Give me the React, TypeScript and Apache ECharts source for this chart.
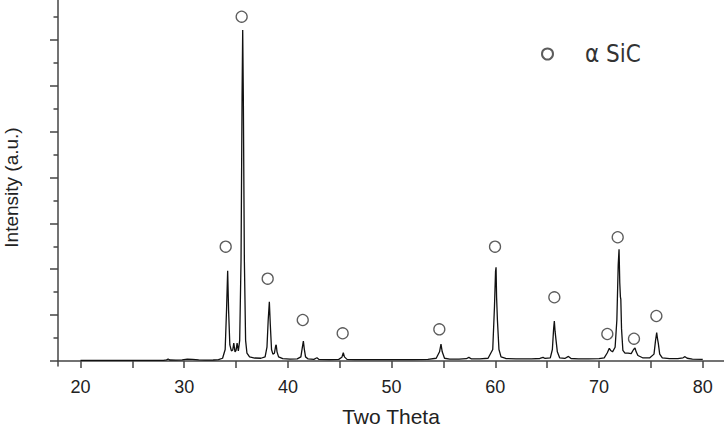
import React, { useEffect, useRef } from 'react';
import * as echarts from 'echarts';

// 2θ (degrees) and intensity (arbitrary units)
const twoTheta = [
  20.0, 21.0, 22.0, 23.0, 24.0, 25.0, 26.0, 27.0, 28.0, 28.3, 28.45, 28.6, 29.2, 29.8, 30.3, 30.8, 31.4, 32.0, 32.8, 33.3,
  33.7, 33.95, 34.08, 34.19, 34.28, 34.4, 34.55, 34.68, 34.78, 34.9, 35.0, 35.1, 35.22, 35.35, 35.48, 35.58, 35.64, 35.7, 35.8, 35.92,
  36.05, 36.3, 36.8, 37.4, 37.8, 37.98, 38.1, 38.21, 38.3, 38.42, 38.55, 38.7, 38.82, 38.87, 38.95, 39.1, 39.5, 40.2, 40.9, 41.25,
  41.38, 41.49, 41.58, 41.7, 41.95, 42.5, 42.8, 43.0, 44.0, 44.9, 45.2, 45.34, 45.45, 45.7, 46.5, 48.0, 50.0, 52.0, 53.5, 54.3,
  54.62, 54.76, 54.88, 55.1, 55.6, 56.5, 57.2, 57.45, 57.7, 58.5, 59.3, 59.75, 59.92, 60.02, 60.07, 60.12, 60.2, 60.35, 60.55, 61.0,
  62.0, 63.5, 64.3, 64.6, 64.8, 65.3, 65.5, 65.62, 65.69, 65.76, 65.85, 65.98, 66.2, 66.7, 67.05, 67.3, 68.0, 69.0, 70.0, 70.5,
  70.8, 70.99, 71.12, 71.3, 71.55, 71.72, 71.85, 71.93, 72.0, 72.06, 72.1, 72.17, 72.3, 72.5, 72.8, 73.1, 73.33, 73.47, 73.58, 73.75,
  74.2, 74.9, 75.3, 75.45, 75.56, 75.64, 75.72, 75.85, 76.1, 76.8, 77.6, 78.1, 78.29, 78.5, 79.0, 80.0,
];
const intensity = [
  12, 12, 13, 12, 13, 13, 14, 14, 15, 25, 45, 22, 18, 25, 40, 35, 25, 20, 22, 30,
  60, 250, 1100, 1968, 1100, 350, 220, 240, 390, 200, 230, 390, 220, 450, 2200, 5800, 7215, 5800, 2200, 450,
  170, 90, 65, 60, 90, 300, 900, 1293, 800, 250, 150, 170, 330, 350, 200, 90, 50, 40, 45, 90,
  280, 436, 260, 90, 45, 35, 70, 35, 30, 35, 80, 180, 90, 35, 28, 28, 28, 30, 35, 60,
  200, 370, 200, 60, 40, 40, 50, 80, 45, 45, 60, 250, 1200, 1950, 2042, 1400, 900, 250, 90, 55,
  45, 45, 55, 80, 55, 70, 250, 700, 872, 650, 460, 200, 70, 55, 100, 55, 45, 45, 50, 70,
  180, 277, 230, 200, 300, 900, 2100, 2435, 1700, 1400, 1350, 700, 230, 170, 170, 160, 250, 283, 200, 120,
  70, 70, 150, 450, 617, 480, 380, 150, 70, 50, 50, 70, 94, 60, 40, 35,
];

// α-SiC reflection markers (circles drawn above the peaks)
const markerTheta = [34.0, 35.54, 38.05, 41.43, 45.28, 54.6, 59.97, 65.69, 70.8, 71.8, 73.37, 75.53];
const markerIntensity = [2492, 7505, 1794, 894, 604, 691, 2492, 1389, 589, 2697, 486, 981];

const xTickValues = [20, 25, 30, 35, 40, 45, 50, 55, 60, 65, 70, 75, 80];
const xLabelValues = [20, 30, 40, 50, 60, 70, 80];
const yMajorTickValues = [0, 1000, 2000, 3000, 4000, 5000, 6000, 7000];
const yMinorTickValues = [500, 1500, 2500, 3500, 4500, 5500, 6500, 7500];

const xTitle = 'Two Theta';
const yTitle = 'Intensity (a.u.)';
const phaseName = 'α SiC';

const FONT = 'Arial, Liberation Sans, Helvetica, sans-serif';
const NARROW_FONT = 'Liberation Sans Narrow, Arial Narrow, DejaVu Sans Condensed, sans-serif';
const AXIS_COLOR = '#444';
const TEXT_COLOR = '#222';

export default function App() {
  const ref = useRef<HTMLDivElement>(null);

  useEffect(() => {
    if (!ref.current) return;
    const chart = echarts.init(ref.current, null, { renderer: 'svg' });
    const yMin = -109;
    const yMax = 8000;
    chart.setOption({
      animation: false,
      backgroundColor: '#fff',
      grid: { left: 58, right: 0, top: -6, bottom: 62, outerBoundsMode: 'none', containLabel: false },
      legend: {
        data: [phaseName],
        left: 536,
        top: 37,
        itemWidth: 11,
        itemHeight: 11,
        selectedMode: false,
        textStyle: {
          fontSize: 24,
          fontFamily: NARROW_FONT,
          color: '#333',
          padding: [0, 0, 0, 27],
        },
      },
      xAxis: {
        type: 'value',
        min: 17.83,
        max: 82.05,
        axisLine: { show: true, lineStyle: { color: AXIS_COLOR, width: 1.5 } },
        axisTick: { show: true, customValues: xTickValues, length: 7, lineStyle: { color: AXIS_COLOR, width: 1.5 } },
        axisLabel: { show: true, customValues: xLabelValues, fontSize: 18, margin: 12, color: TEXT_COLOR, fontFamily: FONT },
        splitLine: { show: false },
        name: xTitle,
        nameLocation: 'middle',
        nameGap: 40,
        nameTextStyle: { fontSize: 21, lineHeight: 21, color: TEXT_COLOR, fontFamily: FONT },
      },
      yAxis: [
        {
          type: 'value',
          min: yMin,
          max: yMax,
          position: 'left',
          axisLine: { show: true, lineStyle: { color: AXIS_COLOR, width: 1.5 } },
          axisTick: { show: true, customValues: yMajorTickValues, length: 8, lineStyle: { color: AXIS_COLOR, width: 1.5 } },
          axisLabel: { show: false },
          splitLine: { show: false },
          name: yTitle,
          nameLocation: 'middle',
          nameGap: 37,
          nameTextStyle: { fontSize: 19, color: TEXT_COLOR, fontFamily: FONT, padding: [0, 15, 0, 0] },
        },
        {
          type: 'value',
          min: yMin,
          max: yMax,
          position: 'left',
          offset: 0,
          axisLine: { show: false },
          axisTick: { show: true, customValues: yMinorTickValues, length: 4.5, lineStyle: { color: AXIS_COLOR, width: 1.5 } },
          axisLabel: { show: false },
          splitLine: { show: false },
        },
      ],
      series: [
        {
          type: 'line',
          name: 'pattern',
          data: twoTheta.map((t, i) => [t, intensity[i]]),
          showSymbol: false,
          symbol: 'none',
          lineStyle: { color: '#111', width: 1.3 },
          yAxisIndex: 0,
          silent: true,
        },
        {
          type: 'scatter',
          name: phaseName,
          data: markerTheta.map((t, i) => [t, markerIntensity[i]]),
          symbol: 'circle',
          symbolSize: 11,
          itemStyle: { color: 'rgba(255,255,255,0)', borderColor: '#333', borderWidth: 1.3 },
          yAxisIndex: 0,
          silent: true,
        },
      ],
    });
    return () => chart.dispose();
  }, []);

  return (
    <div
      ref={ref}
      style={{ position: 'fixed', left: 0, top: 0, width: 724, height: 428, background: '#fff' }}
    />
  );
}
